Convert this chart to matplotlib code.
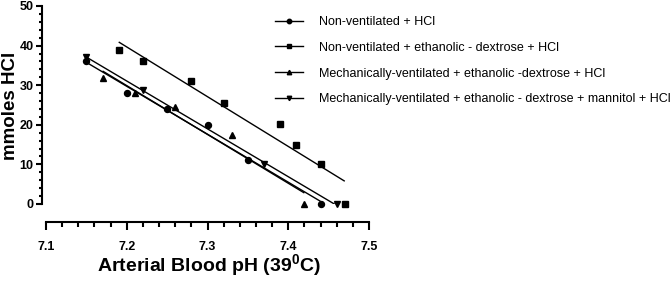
import numpy as np
import matplotlib
matplotlib.use("Agg")
import matplotlib.pyplot as plt
from matplotlib.ticker import MultipleLocator

plt.rcParams['font.family'] = ['Liberation Sans', 'DejaVu Sans']
plt.rcParams['mathtext.fontset'] = 'custom'
plt.rcParams['mathtext.bf'] = 'Liberation Sans:bold'
plt.rcParams['mathtext.rm'] = 'Liberation Sans:bold'

# ---- data ----
labels = ["Non-ventilated + HCl",
          "Non-ventilated + ethanolic - dextrose + HCl",
          "Mechanically-ventilated + ethanolic -dextrose + HCl",
          "Mechanically-ventilated + ethanolic - dextrose + mannitol + HCl"]

ph_nv = [7.15, 7.20, 7.25, 7.30, 7.35, 7.44]
hcl_nv = [36.0, 28.0, 24.0, 20.0, 11.0, 0.0]

ph_nve = [7.19, 7.22, 7.28, 7.32, 7.39, 7.41, 7.44, 7.47]
hcl_nve = [38.8, 36.0, 31.0, 25.5, 20.3, 15.0, 10.0, 0.0]

ph_mve = [7.17, 7.21, 7.26, 7.33, 7.42]
hcl_mve = [31.7, 28.0, 24.4, 17.3, 0.0]

ph_mvm = [7.15, 7.22, 7.37, 7.46]
hcl_mvm = [37.2, 28.7, 10.0, 0.0]

x_ticks = [7.1, 7.2, 7.3, 7.4, 7.5]
y_ticks = [0, 10, 20, 30, 40, 50]

series = [(ph_nv, hcl_nv, 'o'), (ph_nve, hcl_nve, 's'),
          (ph_mve, hcl_mve, '^'), (ph_mvm, hcl_mvm, 'v')]

W, H = 671, 285
fig = plt.figure(figsize=(W / 100, H / 100), dpi=100)
ax = fig.add_axes([46 / W, (H - 204) / H, 323 / W, 198 / H])

handles = []
for (x, y, m), lab in zip(series, labels):
    x = np.asarray(x); y = np.asarray(y)
    ax.plot(x, y, linestyle='none', marker=m, color='black', markersize=4.3,
            clip_on=False)
    k, b = np.polyfit(x, y, 1)
    xs = np.array([x.min(), x.max()])
    ax.plot(xs, k * xs + b, color='black', lw=1.0, solid_capstyle='butt')
    h, = ax.plot([], [], color='black', lw=1.0, marker=m, markersize=3.2,
                 label=lab)
    handles.append(h)

ax.set_xlim(7.1, 7.5)
ax.set_ylim(0, 50)
ax.set_xticks(x_ticks)
ax.set_yticks(y_ticks)
ax.xaxis.set_minor_locator(MultipleLocator(0.02))
ax.yaxis.set_minor_locator(MultipleLocator(2))

for s in ['top', 'right']:
    ax.spines[s].set_visible(False)
ax.spines['left'].set_position(('outward', 3))
ax.spines['bottom'].set_position(('outward', 13))
ax.spines['left'].set_linewidth(1.5)
ax.spines['bottom'].set_linewidth(1.5)

ax.tick_params(axis='x', which='major', length=6, width=1.5, pad=8,
               labelsize=9)
ax.tick_params(axis='x', which='minor', length=3.5, width=1.5)
ax.tick_params(axis='y', which='major', length=4, width=1.5, pad=2,
               labelsize=9)
ax.tick_params(axis='y', which='minor', length=2.5, width=1.5)

ax.set_xticklabels([f"{v:.1f}" for v in x_ticks])
ax.set_yticklabels([str(v) for v in y_ticks])
for t in ax.get_xticklabels() + ax.get_yticklabels():
    t.set_fontweight('bold')

fig.text(208.5 / W, 1 - 266 / H, r'Arterial Blood pH (39$^{\mathbf{0}}$C)',
         fontsize=14, fontweight='bold', ha='center', va='center')
fig.text(11 / W, 1 - 106 / H, 'mmoles HCl', fontsize=13.5,
         fontweight='bold', ha='center', va='center', rotation=90)

fig.legend(handles=handles, loc='upper left',
           bbox_to_anchor=(275 / W, 1 - 16 / H), frameon=False,
           fontsize=9.0, handlelength=2.2, handletextpad=1.3,
           labelspacing=1.1, borderpad=0, borderaxespad=0)

fig.savefig('out.png', dpi=100)
